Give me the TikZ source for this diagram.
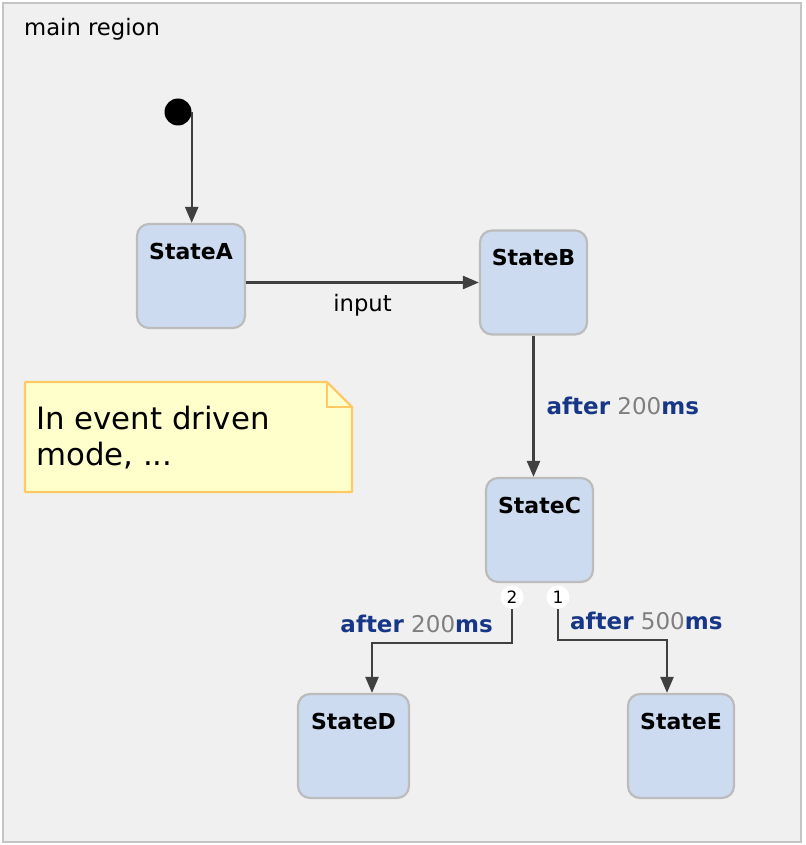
\documentclass[tikz,border=0pt]{standalone}
\usepackage{fontspec}
\setmainfont{DejaVu Sans}
\usetikzlibrary{arrows.meta, positioning}

\definecolor{regionbg}{HTML}{F0F0F0}
\definecolor{framegray}{HTML}{C4C4C4}
\definecolor{statefill}{HTML}{CCDBF0}
\definecolor{stateline}{HTML}{BCBCBC}
\definecolor{arrowgray}{HTML}{404040}
\definecolor{guardblue}{HTML}{173686}
\definecolor{numgray}{HTML}{7F7F7F}
\definecolor{notefill}{HTML}{FFFFCC}
\definecolor{noteline}{HTML}{FFC966}

\newcommand{\afterms}[1]{\textbf{after} {\color{numgray}#1}\textbf{ms}}

\begin{document}
\begin{tikzpicture}[x=1pt, y=-1pt,
  state/.style={draw=stateline, fill=statefill, line width=2.2pt, rounded corners=12pt,
    minimum height=104pt, text height=25pt, text depth=59pt, inner ysep=10pt,
    font=\fontsize{22}{26}\selectfont\bfseries},
  trans/.style={draw=arrowgray, line width=2.4pt, -{Triangle[length=16pt, width=13pt]}},
  badge/.style={circle, fill=white, inner sep=0pt, minimum size=23pt,
    font=\fontsize{17}{17}\selectfont},
  guard/.style={text=guardblue, inner sep=0pt, font=\fontsize{23}{27}\selectfont}]
  \useasboundingbox (0,0) rectangle (805,845);

  % region
  \draw[draw=framegray, fill=regionbg, line width=2pt] (3,3) rectangle (801,842);
  \node[anchor=base west, inner sep=0pt, font=\fontsize{22.7}{26}\selectfont] (title) at (24,36) {main region};

  % note
  \draw[draw=noteline, fill=notefill, line width=2.2pt, line join=round]
    (25,382) -- (327,382) -- (352,407) -- (352,492) -- (25,492) -- cycle;
  \draw[draw=noteline, line width=2.2pt] (327,382) |- (352,407);
  \node[align=left, inner sep=0pt, font=\fontsize{30.8}{36}\selectfont] (note) at (36,438) [anchor=west]
    {In event driven\\mode, ...};

  % states
  \node[circle, fill=black, minimum size=27pt, inner sep=0pt] (init) at (178,112) {};
  \foreach \n/\x/\y/\w in {A/191/276/108, B/533.5/282.5/107, C/539.5/530/107, D/353.5/746/111, E/681/746/106} {
    \node[state, minimum width=\w pt] (S\n) at (\x,\y) {State\n};
  }

  \node[badge] (b2) at ([xshift=-27.5pt, yshift=-14pt]SC.south) {2};
  \node[badge] (b1) at ([xshift=18.5pt, yshift=-14pt]SC.south) {1};

  % transitions
  \draw[trans] (init.east) -- (init.east |- SA.north);
  \draw[trans] (SA.east |- SB) -- (SB.west)
    node[midway, below=11pt, inner sep=0pt, font=\fontsize{22.7}{26}\selectfont] {input};
  \draw[trans] (SB.south) -- (SB.south |- SC.north)
    node[midway, right=12pt, guard] {\afterms{200}};
  \draw[trans] (b2.south) -- ++(0,34) node[pos=0.43, left=18pt, guard] {\afterms{200}}
    -| ([xshift=18.5pt]SD.north);
  \draw[trans] (b1.south) -- ++(0,31) node[pos=0.4, right=11pt, guard] {\afterms{500}}
    -| ([xshift=-14pt]SE.north);
\end{tikzpicture}
\end{document}
